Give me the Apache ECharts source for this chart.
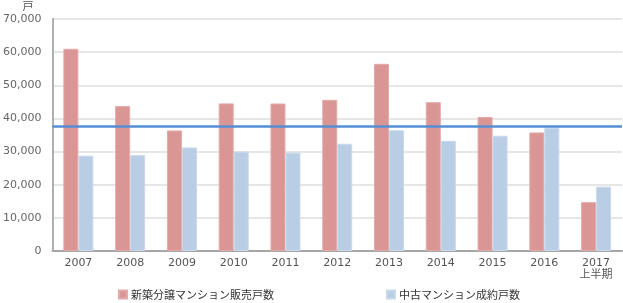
<!DOCTYPE html>
<html><head><meta charset="utf-8">
<script src="https://cdn.jsdelivr.net/npm/echarts@6/dist/echarts.min.js"></script>
<style>html,body{margin:0;padding:0;background:#fff}#c{width:623px;height:303px}</style>
</head><body><div id="c"></div>
<script>
const categories = ['2007','2008','2009','2010','2011','2012','2013','2014','2015','2016','2017\n上半期'];
const newUnits = [61021,43733,36376,44535,44499,45602,56478,44913,40449,35772,14730];
const usedUnits = [28755,28931,31254,29975,29678,32369,36432,33259,34776,37189,19410];
const refLineValue = 37600;
const seriesNames = ['新築分譲マンション販売戸数','中古マンション成約戸数'];
const yTicks = {min:0,max:70000,interval:10000};

const font = 'Verdana, "DejaVu Sans", "Noto Sans CJK JP", sans-serif';
const chart = echarts.init(document.getElementById('c'));
chart.setOption({
  animation:false,
  grid:{left:48,right:1,top:18,bottom:52,containLabel:false},
  legend:{
    data:seriesNames, left:118, top:289, padding:0, itemWidth:8, itemHeight:8, itemGap:112,
    icon:'rect',
    textStyle:{color:'#333',fontSize:11,fontFamily:'"Noto Sans CJK JP", sans-serif',padding:[0,0,0,-1]}
  },
  xAxis:{
    type:'category', data:categories,
    axisLine:{lineStyle:{color:'#a6a6a6',width:2}},
    axisTick:{show:false},
    axisLabel:{color:'#555',fontSize:11,fontFamily:font,margin:6,lineHeight:12}
  },
  yAxis:{
    type:'value', min:yTicks.min, max:yTicks.max, interval:yTicks.interval,
    name:'戸', nameLocation:'end', nameGap:8,
    nameTextStyle:{color:'#555',fontSize:11,fontFamily:'"Noto Sans CJK JP", sans-serif',align:'right',padding:[0,19,0,0]},
    axisLine:{show:true,lineStyle:{color:'#b0b0b0',width:2}},
    axisTick:{show:false},
    axisLabel:{color:'#666',fontSize:11,fontFamily:font,margin:11,formatter:v=>v.toLocaleString('en-US')},
    splitLine:{lineStyle:{color:'#e6e6e6',width:2}}
  },
  series:[
    {name:seriesNames[0],type:'bar',data:newUnits,barWidth:15,barGap:'0%',
     itemStyle:{color:'#d99694',borderColor:'#e3aaa8',borderWidth:1}},
    {name:seriesNames[1],type:'bar',data:usedUnits,barWidth:15,
     itemStyle:{color:'#b9cde5',borderColor:'#c9d9ec',borderWidth:1},
     markLine:{silent:true,symbol:'none',label:{show:false},
       lineStyle:{color:'#558ed5',width:2.5,type:'solid'},
       data:[{yAxis:refLineValue}]}}
  ]
});
</script></body></html>
